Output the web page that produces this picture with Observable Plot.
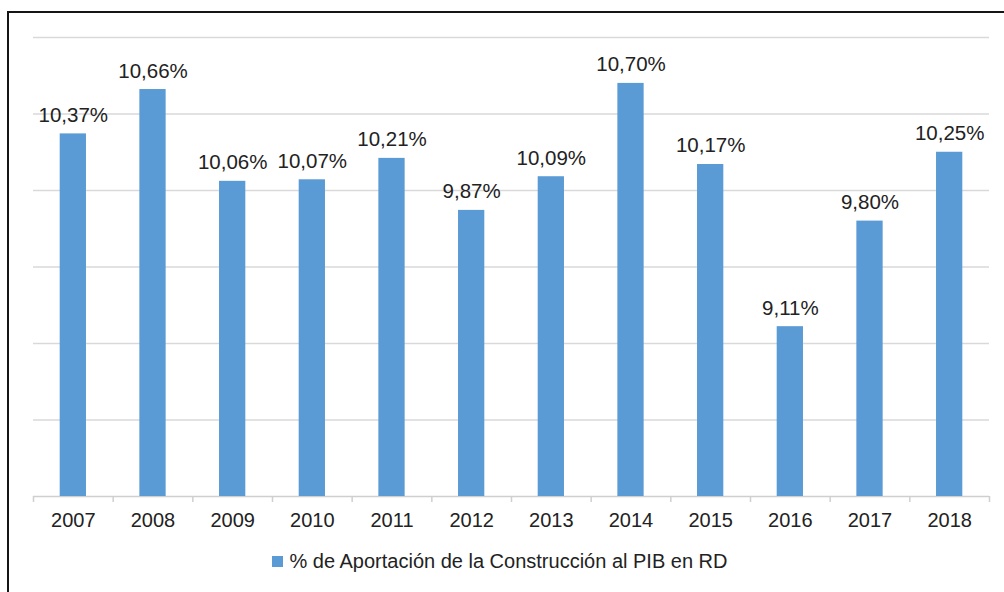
<!DOCTYPE html>
<html>
<head>
<meta charset="utf-8">
<script src="https://cdn.jsdelivr.net/npm/d3@7"></script>
<script src="https://cdn.jsdelivr.net/npm/@observablehq/plot@0.6"></script>
<style>
  html, body { margin: 0; padding: 0; background: #fff; overflow: hidden; width: 1004px; height: 592px; }
  #wrap { position: relative; width: 1004px; height: 592px; font-family: "Liberation Sans", Arial, sans-serif; }
  #frame { position: absolute; left: 7px; top: 11px; width: 1100px; height: 700px; border: 2px solid #151515; box-sizing: border-box; pointer-events: none; }
  #legend { position: absolute; left: 0; top: 549px; width: 1004px; display: flex; justify-content: center; align-items: center; font-size: 20px; line-height: 24px; color: #222; padding-right: 4px; box-sizing: border-box; }
  #legend .sw { display: inline-block; width: 11px; height: 11px; background: #5b9bd5; margin-right: 6px; }
</style>
</head>
<body>
<div id="wrap">
  <div id="chart"></div>
  <div id="legend"><span class="sw"></span><span id="legtext"></span></div>
  <div id="frame"></div>
</div>
<script>
const years = ["2007","2008","2009","2010","2011","2012","2013","2014","2015","2016","2017","2018"];
const values = [10.37, 10.66, 10.06, 10.07, 10.21, 9.87, 10.09, 10.70, 10.17, 9.11, 9.80, 10.25];
const seriesName = "% de Aportación de la Construcción al PIB en RD";
const yMin = 8, yMax = 11, yStep = 0.5;

const data = years.map((y, i) => ({i, year: y, value: values[i]}));
const half = 0.165;
const boundaries = d3.range(0, years.length + 1).map(k => k - 0.5);
const gridTicks = d3.range(yMin + yStep, yMax + 0.001, yStep);
const fmt = v => v.toFixed(2).replace(".", ",") + "%";

const chart = Plot.plot({
  width: 1004,
  height: 540,
  marginLeft: 33,
  marginRight: 15,
  marginTop: 37,
  marginBottom: 44,
  style: {fontFamily: "'Liberation Sans', Arial, sans-serif", background: "transparent"},
  x: {domain: [-0.5, years.length - 0.5], axis: null},
  y: {domain: [yMin, yMax], axis: null},
  marks: [
    Plot.gridY(gridTicks, {stroke: "#d9d9d9", strokeOpacity: 1, strokeWidth: 1.5}),
    Plot.ruleY([yMin], {stroke: "#cfcfcf", strokeWidth: 1.5}),
    Plot.axisX(boundaries, {tickSize: 6, tickFormat: () => "", label: null, stroke: "#cfcfcf", strokeWidth: 1.5, strokeOpacity: 1, anchor: "bottom"}),
    Plot.rectY(data, {x1: d => d.i - half, x2: d => d.i + half, y1: yMin, y2: "value", fill: "#5b9bd5"}),
    Plot.text(data, {x: "i", y: "value", text: d => fmt(d.value), dy: -12, lineAnchor: "bottom", fontSize: 20.5, fill: "#222"}),
    Plot.axisX(data.map(d => d.i), {tickFormat: i => years[i], label: null, tickSize: 0, tickPadding: 16, fontSize: 20, fill: "#222", anchor: "bottom"})
  ]
});
document.getElementById("chart").appendChild(chart);
document.getElementById("legtext").textContent = seriesName;
</script>
</body>
</html>
